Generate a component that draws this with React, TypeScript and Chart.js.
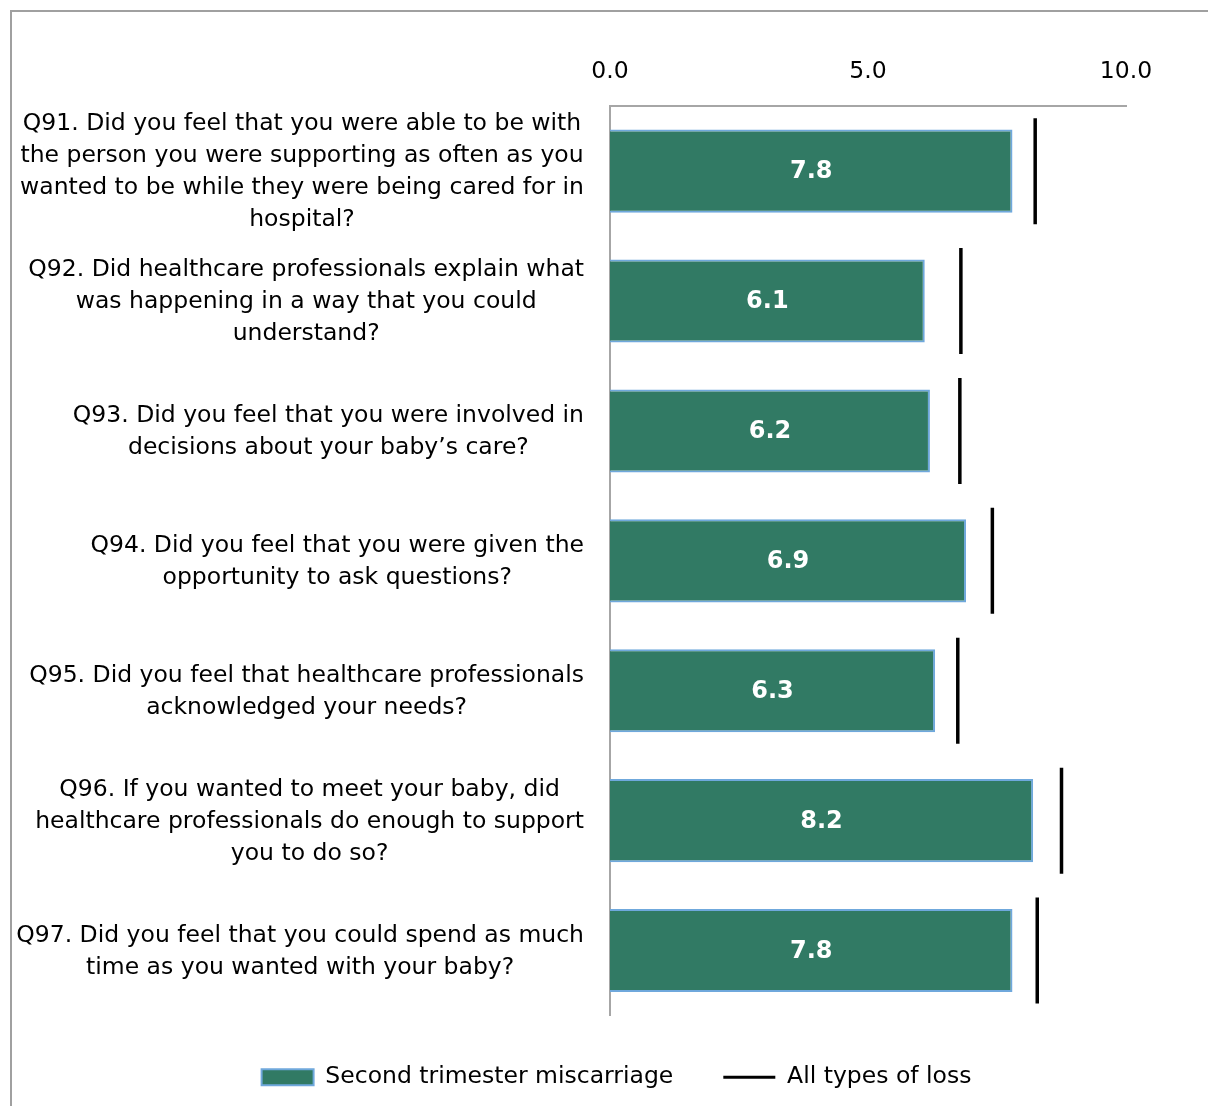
import { useEffect, useRef } from 'react';
import { Chart, registerables } from 'chart.js';

Chart.register(...registerables);

const categories = ['Q91', 'Q92', 'Q93', 'Q94', 'Q95', 'Q96', 'Q97'];
const questionLabels: string[][] = [
  [
    'Q91. Did you feel that you were able to be with',
    'the person you were supporting as often as you',
    'wanted to be while they were being cared for in',
    'hospital?',
  ],
  [
    'Q92. Did healthcare professionals explain what',
    'was happening in a way that you could',
    'understand?',
  ],
  ['Q93. Did you feel that you were involved in', 'decisions about your baby\u2019s care?'],
  ['Q94. Did you feel that you were given the', 'opportunity to ask questions?'],
  ['Q95. Did you feel that healthcare professionals', 'acknowledged your needs?'],
  [
    'Q96. If you wanted to meet your baby, did',
    'healthcare professionals do enough to support',
    'you to do so?',
  ],
  ['Q97. Did you feel that you could spend as much', 'time as you wanted with your baby?'],
];
const secondTrimester = [7.8, 6.1, 6.2, 6.9, 6.3, 8.2, 7.8];
const allTypesOfLoss = [8.24, 6.8, 6.78, 7.41, 6.74, 8.75, 8.28];
const xTickValues = [0, 5, 10];
const seriesNames = ['Second trimester miscarriage', 'All types of loss'];

const FONT = '"DejaVu Sans", Verdana, sans-serif';
const FS = 23.5;
const GREEN = '#317A64';
const BAR_BORDER = '#6FA8DC';

const bgPlugin = {
  id: 'bgBorder',
  beforeDraw(chart: any) {
    const { ctx, width, height } = chart;
    ctx.save();
    ctx.fillStyle = '#ffffff';
    ctx.fillRect(0, 0, width, height);
    ctx.fillStyle = '#a0a0a0';
    ctx.fillRect(10, 10, width, 2);
    ctx.fillRect(10, 10, 2, height);
    ctx.restore();
  },
};

const labelPlugin = {
  id: 'labels',
  afterDraw(chart: any) {
    const { ctx, chartArea } = chart;
    const yScale = chart.scales.y;
    ctx.save();
    ctx.fillStyle = '#000000';
    ctx.font = `${FS}px ${FONT}`;
    ctx.textAlign = 'center';
    ctx.textBaseline = 'middle';
    const right = chartArea.left - 26;
    const lh = 32;
    questionLabels.forEach((lines, i) => {
      const cy = yScale.getPixelForValue(i);
      const maxW = Math.max(...lines.map((l) => ctx.measureText(l).width));
      const cx = right - maxW / 2;
      lines.forEach((l, j) => {
        ctx.fillText(l, cx, cy + (j - (lines.length - 1) / 2) * lh + 1);
      });
    });
    const meta = chart.getDatasetMeta(0);
    ctx.fillStyle = '#ffffff';
    ctx.font = `bold 24px ${FONT}`;
    meta.data.forEach((bar: any, i: number) => {
      const p = bar.getProps(['x', 'y', 'base'], true);
      ctx.fillText(secondTrimester[i].toFixed(1), (p.x + p.base) / 2, p.y + 1);
    });
    ctx.restore();
  },
};

export default function App() {
  const ref = useRef<HTMLCanvasElement>(null);
  useEffect(() => {
    if (!ref.current) return;
    const chart = new Chart(ref.current, {
      type: 'bar',
      data: {
        labels: categories,
        datasets: [
          {
            type: 'bar',
            label: seriesNames[0],
            data: secondTrimester,
            backgroundColor: GREEN,
            borderColor: BAR_BORDER,
            borderWidth: 2,
            barPercentage: 0.64,
            categoryPercentage: 1,
          } as any,
          {
            type: 'scatter',
            label: seriesNames[1],
            data: allTypesOfLoss.map((v, i) => ({ x: v, y: i })),
            pointStyle: 'line',
            rotation: 90,
            radius: 53,
            hoverRadius: 53,
            borderColor: '#000000',
            backgroundColor: '#000000',
            borderWidth: 3.5,
            showLine: false,
          } as any,
        ],
      },
      options: {
        indexAxis: 'y',
        animation: false,
        responsive: true,
        maintainAspectRatio: false,
        layout: { padding: { left: 107, right: 82, top: 38, bottom: 7 } },
        scales: {
          x: {
            type: 'linear',
            position: 'top',
            min: 0,
            max: 10,
            afterBuildTicks: (scale: any) => {
              scale.ticks = xTickValues.map((v) => ({ value: v }));
            },
            ticks: {
              callback: (v: any) => Number(v).toFixed(1),
              font: { family: FONT, size: FS },
              color: '#000000',
              padding: 20,
              maxRotation: 0,
            },
            grid: { display: false, drawTicks: false },
            border: { display: true, color: '#a6a6a6', width: 2 },
          },
          y: {
            type: 'category',
            offset: true,
            afterFit: (scale: any) => {
              scale.width = 503;
            },
            ticks: { display: false },
            grid: { display: false, drawTicks: false, offset: true },
            border: { display: true, color: '#a6a6a6', width: 2 },
          },
        },
        plugins: {
          tooltip: { enabled: false },
          legend: {
            position: 'bottom',
            labels: {
              usePointStyle: true,
              pointStyleWidth: 52,
              boxHeight: 16,
              padding: 50,
              color: '#000000',
              font: { family: FONT, size: FS },
              generateLabels: (c: any) => {
                const items = Chart.defaults.plugins.legend.labels.generateLabels(c);
                items.sort((a: any, b: any) => a.datasetIndex - b.datasetIndex);
                return items.map((it: any) =>
                  it.datasetIndex === 0
                    ? { ...it, pointStyle: 'rect', rotation: 0, fillStyle: GREEN, strokeStyle: BAR_BORDER, lineWidth: 2 }
                    : { ...it, pointStyle: 'line', rotation: 0, fillStyle: '#000', strokeStyle: '#000', lineWidth: 3 }
                );
              },
            },
          },
        },
      },
      plugins: [bgPlugin, labelPlugin],
    });
    return () => chart.destroy();
  }, []);
  return (
    <div style={{ position: 'absolute', left: 0, top: 0, width: 1208, height: 1106 }}>
      <canvas ref={ref} />
    </div>
  );
}
